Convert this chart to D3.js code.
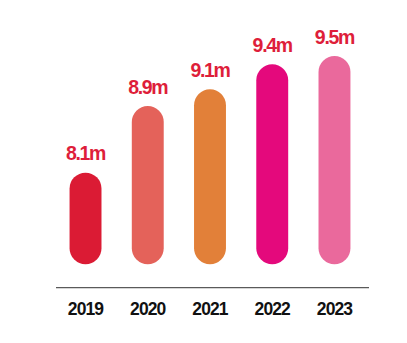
<!DOCTYPE html>
<html>
<head>
<meta charset="utf-8">
<script src="https://cdn.jsdelivr.net/npm/d3@7"></script>
<style>
  html, body { margin: 0; padding: 0; background: #ffffff; }
  svg { display: block; }
</style>
</head>
<body>
<svg id="chart" width="407" height="343"></svg>
<script>
// Yearly totals, in millions
const years = ["2019", "2020", "2021", "2022", "2023"];
const values = [8.1, 8.9, 9.1, 9.4, 9.5];
const valueLabels = ["8.1m", "8.9m", "9.1m", "9.4m", "9.5m"];
const barColors = ["#db1b34", "#e4625a", "#e28039", "#e4097c", "#ea699c"];

const svg = d3.select("#chart");
const W = 407, H = 343;

const x = d3.scaleBand()
  .domain(years)
  .range([54, 366])
  .paddingInner(0.487)
  .paddingOuter(0.25);

const y = d3.scaleLinear()
  .domain([7, 9.5])
  .range([264.3, 56]);

const bw = x.bandwidth();

// Pill-shaped bars
svg.append("g")
  .selectAll("rect")
  .data(years)
  .join("rect")
  .attr("x", d => x(d))
  .attr("width", bw)
  .attr("y", (d, i) => y(values[i]))
  .attr("height", (d, i) => y(7) - y(values[i]))
  .attr("rx", bw / 2)
  .attr("ry", bw / 2)
  .attr("fill", (d, i) => barColors[i]);

// Value labels above each bar
svg.append("g")
  .selectAll("text")
  .data(years)
  .join("text")
  .attr("x", d => x(d) + bw / 2)
  .attr("y", (d, i) => y(values[i]) - 12.3)
  .attr("text-anchor", "middle")
  .attr("font-family", "'Liberation Sans', Arial, sans-serif")
  .attr("font-weight", "bold")
  .attr("font-size", 19.5)
  .attr("letter-spacing", "-1.3px")
  .attr("fill", "#de1e3a")
  .text((d, i) => valueLabels[i]);

// Baseline axis with year labels
const axis = d3.axisBottom(x).tickSize(0).tickPadding(0);
const gx = svg.append("g")
  .attr("transform", "translate(0,287.7)")
  .call(axis);
gx.select(".domain")
  .attr("d", "M56,0H369")
  .attr("stroke", "#5a5a5a")
  .attr("stroke-width", 1.3);
gx.selectAll(".tick text")
  .attr("y", 27.3)
  .attr("dy", null)
  .attr("font-family", "'Liberation Sans', Arial, sans-serif")
  .attr("font-weight", "bold")
  .attr("font-size", 17.5)
  .attr("letter-spacing", "-0.9px")
  .attr("fill", "#111111");
</script>
</body>
</html>
